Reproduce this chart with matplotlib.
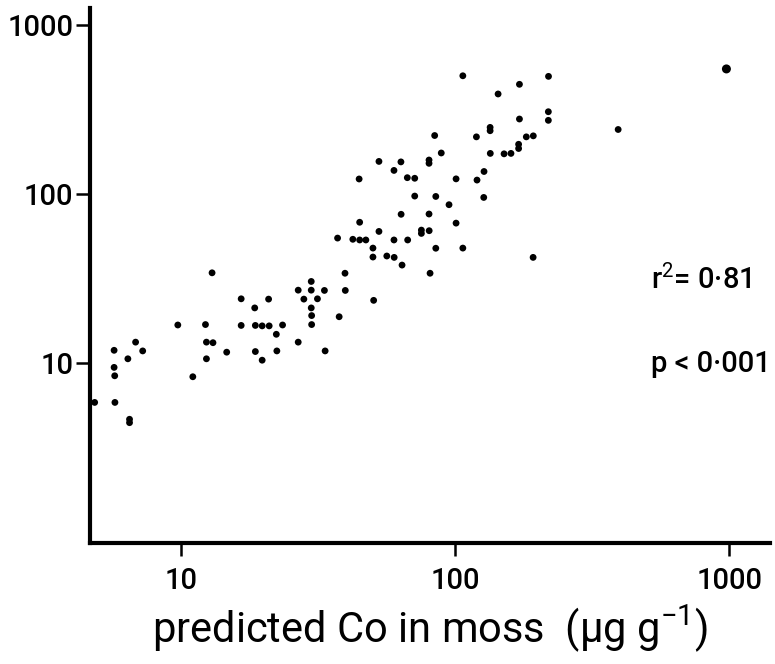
import matplotlib
matplotlib.use("Agg")
import matplotlib.pyplot as plt
from matplotlib.ticker import FixedLocator, NullLocator, FixedFormatter

x_pred = [13.0, 5.71, 6.84, 7.26, 6.41, 5.71, 5.74, 4.85, 5.75, 6.50, 6.50,
          9.75, 11.06, 12.3, 12.4, 13.1, 12.4, 14.7, 16.6, 16.6, 18.6, 18.7,
          19.8, 21.0, 23.5, 20.9, 22.3, 18.7, 19.8, 22.4, 26.8, 29.9, 29.9,
          33.4, 28.1, 31.5, 29.9, 30.0, 30.0, 26.8, 33.6, 37.8, 39.7, 39.8,
          50.5, 44.7, 44.9, 52.8, 37.3, 42.4, 44.9, 47.3, 50.2, 50.2, 106.8,
          171.8, 219.3, 143.6, 219.0, 219.0, 171.8, 134.3, 134.3, 84.3, 119.7,
          182.0, 193.0, 170.6, 170.6, 134.5, 151.0, 160.0, 89.1, 63.5, 52.8,
          80.4, 80.4, 59.9, 67.0, 71.3, 100.9, 127.6, 120.3, 71.3, 85.1, 127.3,
          95.1, 63.6, 80.4, 100.9, 75.4, 75.4, 80.5, 59.9, 67.2, 85.1, 106.8,
          56.4, 60.0, 64.1, 81.1, 192.7, 393.6, 977.0]
y_obs = [34.2, 11.9, 13.3, 11.8, 10.6, 9.43, 8.41, 5.85, 5.85, 4.65, 4.44,
         16.8, 8.30, 16.9, 13.3, 13.2, 10.6, 11.6, 24.0, 16.7, 21.2, 16.7,
         16.6, 16.6, 16.8, 23.9, 14.8, 11.7, 10.4, 11.8, 27.0, 30.4, 27.0,
         26.9, 23.9, 24.0, 21.2, 19.1, 16.9, 13.3, 11.8, 18.8, 34.0, 26.9,
         23.5, 122.8, 68.1, 60.1, 54.9, 54.0, 53.5, 53.5, 47.9, 42.4, 501.0,
         446.0, 497.0, 391.0, 307.0, 273.0, 278.0, 248.0, 237.0, 222.0, 218.0,
         218.0, 221.0, 197.0, 186.0, 174.0, 173.0, 174.0, 175.0, 155.0, 156.0,
         159.0, 152.0, 138.0, 125.0, 124.0, 123.0, 136.0, 121.0, 97.3, 96.8, 95.5,
         86.5, 75.9, 76.2, 67.3, 61.2, 58.5, 60.7, 53.5, 53.5, 47.8, 47.9,
         43.0, 42.2, 38.0, 34.0, 42.2, 241.0, 550.0]

x_ticks = [10, 100, 1000]
x_tick_labels = ["10", "100", "1000"]
y_ticks = [10, 100, 1000]
y_tick_labels = ["10", "100", "1000"]

FONT = ["Roboto", "Liberation Sans", "DejaVu Sans"]
plt.rcParams["font.family"] = FONT
plt.rcParams["mathtext.fontset"] = "custom"
plt.rcParams["mathtext.rm"] = "Roboto"
plt.rcParams["mathtext.it"] = "Roboto"
plt.rcParams["mathtext.bf"] = "Roboto"

fig = plt.figure(figsize=(7.75, 6.64), dpi=100)
ax = fig.add_axes([0.116, 0.182, 0.878, 0.806])

sizes = [24] * (len(x_pred) - 1) + [42]
ax.scatter(x_pred, y_obs, s=sizes, c="black", edgecolors="none", zorder=3,
           clip_on=False)

ax.set_xscale("log")
ax.set_yscale("log")
ax.set_xlim(4.66, 1413)
ax.set_ylim(0.86, 1262)

ax.xaxis.set_major_locator(FixedLocator(x_ticks))
ax.xaxis.set_major_formatter(FixedFormatter(x_tick_labels))
ax.yaxis.set_major_locator(FixedLocator(y_ticks))
ax.yaxis.set_major_formatter(FixedFormatter(y_tick_labels))
ax.xaxis.set_minor_locator(NullLocator())
ax.yaxis.set_minor_locator(NullLocator())

for side in ("top", "right"):
    ax.spines[side].set_visible(False)
for side in ("left", "bottom"):
    ax.spines[side].set_linewidth(3.0)
    ax.spines[side].set_color("black")

ax.tick_params(axis="x", direction="out", length=9, width=1.8, pad=8,
               labelsize=21)
ax.tick_params(axis="y", direction="out", length=10, width=1.8, pad=2,
               labelsize=21)
for lab in ax.get_xticklabels() + ax.get_yticklabels():
    lab.set_fontweight("medium")

ax.set_xlabel("predicted Co in moss  (µg g$^{\\mathrm{-1}}$)", fontsize=30,
              labelpad=6)

ax.text(0.824, 0.492, "r$^{\\mathrm{2}}$= 0·81", transform=ax.transAxes,
        fontsize=21, fontweight="medium", ha="left", va="center")
ax.text(0.824, 0.335, "p < 0·001", transform=ax.transAxes,
        fontsize=21, fontweight="medium", ha="left", va="center")

fig.savefig("out.png", dpi=100)
